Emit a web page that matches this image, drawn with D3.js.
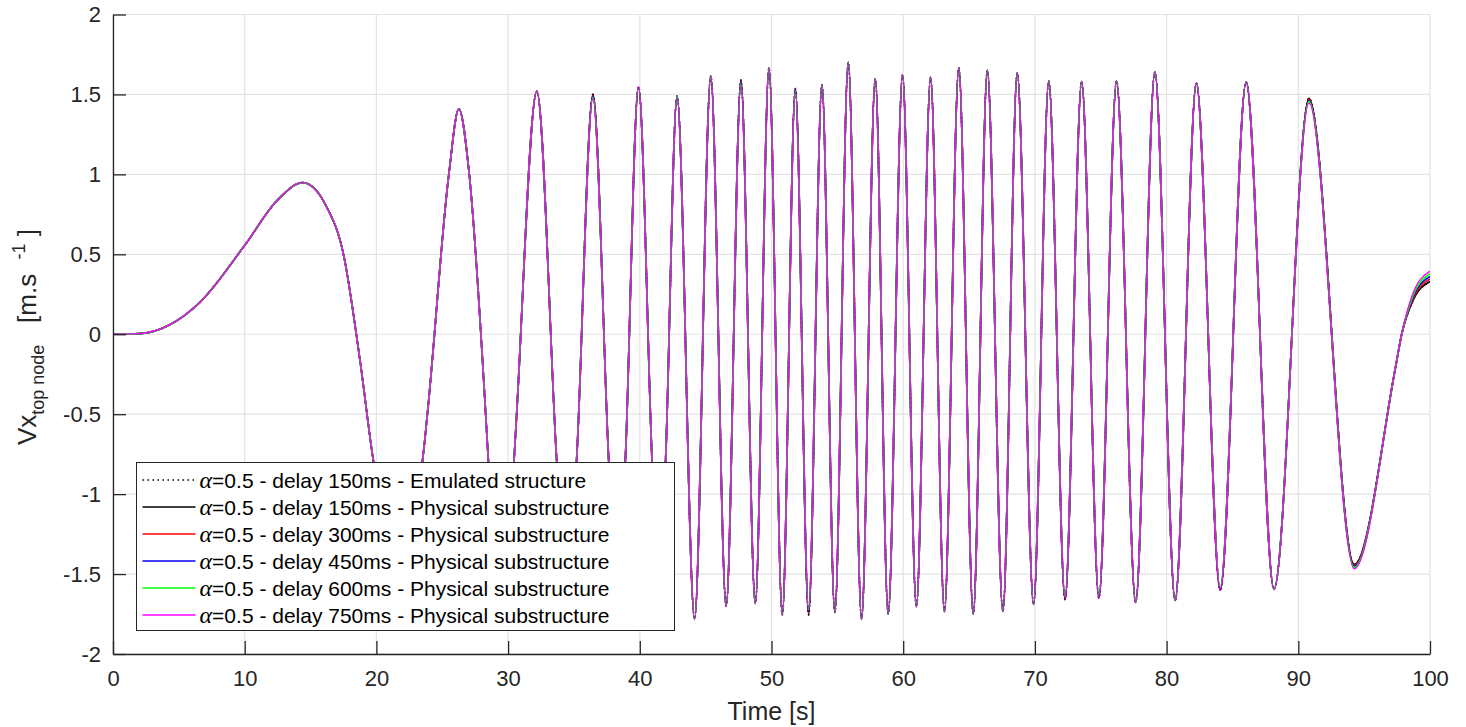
<!DOCTYPE html>
<html>
<head>
<meta charset="utf-8">
<script src="https://cdn.jsdelivr.net/npm/d3@7"></script>
<style>
  body { margin: 0; background: #fff; }
  text { font-family: "Liberation Sans", Arial, Helvetica, sans-serif; fill: #262626; }
</style>
</head>
<body>
<svg id="chart"></svg>
<script>
// Time of each read point [s] (extrema + a few crossings)
var keyTimes = [0, 2, 6.6, 10, 12.5, 14.4, 16.2, 17.5, 18.75, 19.77,
  21.6, 23.5, 23.87, 25.5, 26.26, 27.05, 28.3, 28.5, 29.5, 30.45, 30.65, 32.18,
  33.69, 34.45, 35.2, 36.44, 37.64, 38.27, 38.9, 39.9, 40.93, 41.45, 41.96, 42.83,
  44.16, 45.39, 46.56, 47.68, 48.77, 49.81, 50.82, 51.81, 52.82, 53.83, 54.81, 55.83,
  56.84, 57.88, 58.86, 59.95, 61.0, 62.08, 63.13, 64.22, 65.32, 66.39, 67.57, 68.66,
  69.9, 71.05, 72.29, 73.55, 74.86, 76.2, 77.65, 79.11, 80.65, 82.26, 84.07, 86.04,
  88.15, 90.81, 94.25, 97.34, 97.85, 98.7, 100];

// delay 150ms (physical and emulated) [m/s]
var vx150 = [0, 0.004, 0.2, 0.556, 0.84, 0.948, 0.8, 0.5, -0.16, -0.79,
  -1.38, -0.79, -0.5, 1.0, 1.41, 1.0, -0.5, -0.79, -1.56, -0.79, -0.5, 1.52,
  -0.79, -1.72, -0.79, 1.5, -0.79, -1.74, -0.79, 1.548, -0.79, -1.74, -0.79, 1.49,
  -1.78, 1.615, -1.7, 1.59, -1.683, 1.665, -1.754, 1.537, -1.755, 1.56, -1.74, 1.7,
  -1.78, 1.598, -1.75, 1.623, -1.704, 1.607, -1.734, 1.667, -1.75, 1.65, -1.733, 1.635,
  -1.69, 1.583, -1.66, 1.58, -1.65, 1.583, -1.677, 1.64, -1.665, 1.57, -1.6, 1.577,
  -1.594, 1.475, -1.44, -0.225, 0, 0.21, 0.33];

// where the longer delays part from the 150ms curve: [time, value]
var vx300 = [[36.44, 1.495], [47.68, 1.585], [51.81, 1.535], [52.82, -1.745], [72.29, -1.657],
  [74.86, -1.648], [84.07, -1.598], [90.81, 1.47], [94.25, -1.445], [98.7, 0.22], [100, 0.345]];
var vx450 = [[36.44, 1.488], [47.68, 1.577], [51.81, 1.53], [52.82, -1.735], [72.29, -1.652],
  [74.86, -1.642], [84.07, -1.592], [90.81, 1.462], [94.25, -1.452], [98.7, 0.23], [100, 0.362]];
var vx600 = [[36.44, 1.482], [47.68, 1.567], [51.81, 1.52], [52.82, -1.722], [72.29, -1.64],
  [74.86, -1.63], [84.07, -1.58], [90.81, 1.455], [94.25, -1.46], [98.7, 0.24], [100, 0.378]];
var vx750 = [[36.44, 1.475], [42.83, 1.482], [47.68, 1.555], [51.81, 1.51], [52.82, -1.715],
  [72.29, -1.645], [90.81, 1.445], [94.25, -1.468], [98.7, 0.255], [100, 0.395]];

var legendLabels = [
  "=0.5 - delay 150ms - Emulated structure",
  "=0.5 - delay 150ms - Physical substructure",
  "=0.5 - delay 300ms - Physical substructure",
  "=0.5 - delay 450ms - Physical substructure",
  "=0.5 - delay 600ms - Physical substructure",
  "=0.5 - delay 750ms - Physical substructure"
];
var seriesColors = ["#000000", "#000000", "#ff0000", "#0000ff", "#00ff00", "#ff00ff"];

var xTickValues = [0, 10, 20, 30, 40, 50, 60, 70, 80, 90, 100];
var yTickValues = [-2, -1.5, -1, -0.5, 0, 0.5, 1, 1.5, 2];
var yTickLabels = ["-2", "-1.5", "-1", "-0.5", "0", "0.5", "1", "1.5", "2"];

// build series
function withChanges(changes) {
  var m = new Map(changes);
  return keyTimes.map(function(t, i) { return {t: t, v: m.has(t) ? m.get(t) : vx150[i]}; });
}
var series = [
  withChanges([]), withChanges([]), withChanges(vx300),
  withChanges(vx450), withChanges(vx600), withChanges(vx750)
];

var svgWidth = 1466, svgHeight = 727;
var margin = {top: 14.5, right: 36, bottom: 73, left: 113};
var width = svgWidth - margin.left - margin.right;
var height = svgHeight - margin.top - margin.bottom;

var svg = d3.select("#chart").attr("width", svgWidth).attr("height", svgHeight);
var chartGroup = svg.append("g").attr("transform", `translate(${margin.left}, ${margin.top})`);

var xScale = d3.scaleLinear().domain([0, 100]).range([0, width]);
var yScale = d3.scaleLinear().domain([-2, 2]).range([height, 0]);

// grid
chartGroup.append("g").selectAll("line").data(xTickValues).enter().append("line")
  .attr("x1", d => xScale(d)).attr("x2", d => xScale(d))
  .attr("y1", 0).attr("y2", height)
  .attr("stroke", "#e3e3e3").attr("stroke-width", 1.2);
chartGroup.append("g").selectAll("line").data(yTickValues).enter().append("line")
  .attr("x1", 0).attr("x2", width)
  .attr("y1", d => yScale(d)).attr("y2", d => yScale(d))
  .attr("stroke", "#e3e3e3").attr("stroke-width", 1.2);

// curves
var line = d3.line().x(d => xScale(d.t)).y(d => yScale(d.v)).curve(d3.curveMonotoneX);
chartGroup.append("defs").append("clipPath").attr("id", "clip")
  .append("rect").attr("width", width).attr("height", height);
var curves = chartGroup.append("g").attr("clip-path", "url(#clip)");
series.forEach(function(s, i) {
  curves.append("path")
    .datum(s)
    .attr("d", line)
    .attr("fill", "none")
    .attr("stroke", seriesColors[i])
    .attr("stroke-width", i == 5 ? 1.3 : 1.7)
    .attr("stroke-dasharray", i == 0 ? "1.5,3" : null);
});

// axes
var xAxis = d3.axisBottom(xScale).tickValues(xTickValues).tickSizeInner(-13).tickSizeOuter(0).tickPadding(16);
var yAxis = d3.axisLeft(yScale).tickValues(yTickValues).tickFormat((d, i) => yTickLabels[i])
  .tickSizeInner(-13).tickSizeOuter(0).tickPadding(12);

var gx = chartGroup.append("g").attr("transform", `translate(0, ${height})`).call(xAxis);
var gy = chartGroup.append("g").call(yAxis);
[gx, gy].forEach(function(g) {
  g.select(".domain").attr("stroke", "#262626").attr("stroke-width", 1.3);
  g.selectAll(".tick line").attr("stroke", "#262626").attr("stroke-width", 1.3);
  g.selectAll(".tick text").attr("font-size", "22px").attr("fill", "#262626")
    .attr("font-family", "Liberation Sans, Arial, sans-serif");
});

// axis titles
svg.append("text")
  .attr("x", margin.left + width / 2)
  .attr("y", 720)
  .attr("text-anchor", "middle")
  .attr("font-size", "25px")
  .text("Time [s]");

var yTitle = svg.append("text")
  .attr("transform", "translate(36, 337) rotate(-90)")
  .attr("text-anchor", "middle")
  .attr("font-size", "26px")
  .style("white-space", "pre");
yTitle.append("tspan").text("Vx");
yTitle.append("tspan").attr("font-size", "18px").attr("dy", 8).text("top node");
yTitle.append("tspan").attr("dy", -8).text("   [m.s  ");
yTitle.append("tspan").attr("font-size", "18px").attr("dy", -11).text("-1");
yTitle.append("tspan").attr("dy", 11).text(" ]");

// legend
var legend = svg.append("g").attr("transform", "translate(136.5, 462.5)");
legend.append("rect")
  .attr("width", 538).attr("height", 168)
  .attr("fill", "#fff").attr("stroke", "#262626").attr("stroke-width", 1);
var rows = legend.selectAll("g.row").data(legendLabels).enter().append("g")
  .attr("class", "row")
  .attr("transform", (d, i) => `translate(0, ${17.5 + i * 27})`);
rows.append("line")
  .attr("x1", 6).attr("x2", 59).attr("y1", 0).attr("y2", 0)
  .attr("stroke", (d, i) => seriesColors[i])
  .attr("stroke-width", 1.3)
  .attr("stroke-dasharray", (d, i) => i == 0 ? "1.5,3.5" : null);
var labels = rows.append("text")
  .attr("x", 63).attr("y", 7.5)
  .attr("font-size", "21px")
  .attr("fill", "#000");
labels.append("tspan")
  .attr("font-family", "Liberation Serif, DejaVu Serif, serif")
  .attr("font-style", "italic")
  .attr("font-size", "24px")
  .attr("fill", "#000")
  .text("α");
labels.append("tspan").attr("fill", "#000").text(d => d);
</script>
</body>
</html>
